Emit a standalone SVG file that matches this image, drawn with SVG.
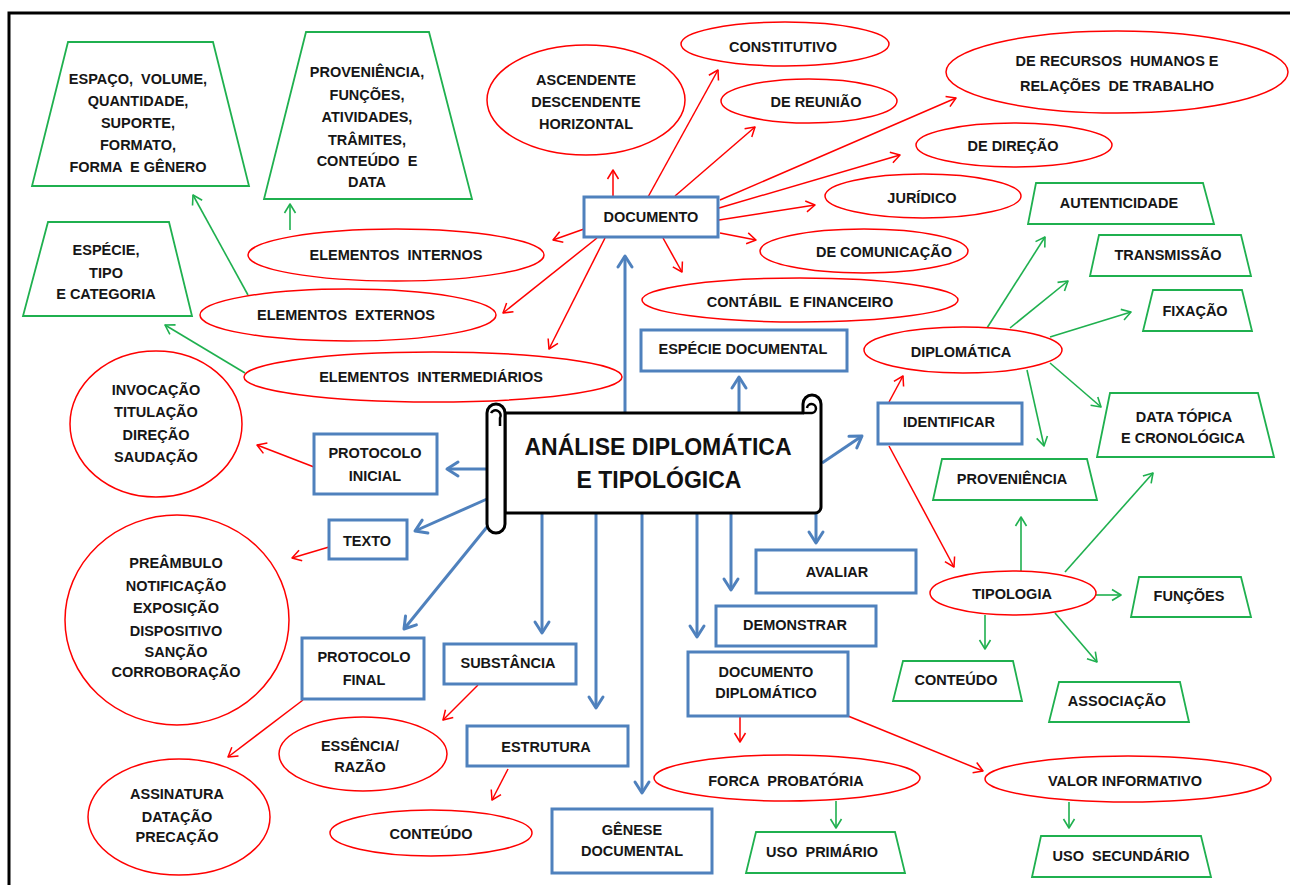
<svg xmlns="http://www.w3.org/2000/svg" width="1290" height="885" viewBox="0 0 1290 885" xml:space="preserve">
<style>
.t{font-family:"Liberation Sans",Arial,sans-serif;font-weight:bold;font-size:14.5px;fill:#161616;text-anchor:middle;white-space:pre}
.tt{font-family:"Liberation Sans",Arial,sans-serif;font-weight:bold;font-size:23px;fill:#111;text-anchor:middle}
.e{fill:#fff;stroke:#ff0000;stroke-width:1.5}
.z{fill:#fff;stroke:#1fb04f;stroke-width:1.8}
.bx{fill:#fff;stroke:#4f81bd;stroke-width:3}
.r{fill:none;stroke:#ff0000;stroke-width:1.5;marker-end:url(#ar)}
.g{fill:none;stroke:#1fb04f;stroke-width:1.6;marker-end:url(#ag)}
.b{fill:none;stroke:#4f81bd;stroke-width:3;marker-end:url(#ab)}
.sc{fill:#fff;stroke:#000;stroke-width:3;stroke-linejoin:round}
</style>
<defs>
<marker id="ar" viewBox="-12 -8 14 16" refX="0" refY="0" markerWidth="14" markerHeight="16" markerUnits="userSpaceOnUse" orient="auto"><path d="M-9,-5.5 L0,0 L-9,5.5" fill="none" stroke="#ff0000" stroke-width="1.5" stroke-linejoin="round"/></marker>
<marker id="ag" viewBox="-12 -8 14 16" refX="0" refY="0" markerWidth="14" markerHeight="16" markerUnits="userSpaceOnUse" orient="auto"><path d="M-9,-5.5 L0,0 L-9,5.5" fill="none" stroke="#1fb04f" stroke-width="1.6" stroke-linejoin="round"/></marker>
<marker id="ab" viewBox="-15 -10 18 20" refX="0" refY="0" markerWidth="18" markerHeight="20" markerUnits="userSpaceOnUse" orient="auto"><path d="M-11,-7 L0,0 L-11,7" fill="none" stroke="#4f81bd" stroke-width="3" stroke-linejoin="round" stroke-linecap="round"/></marker>
</defs>
<rect x="0" y="0" width="1290" height="885" fill="#fff"/>
<path d="M9,890 V13 H1295" fill="none" stroke="#000" stroke-width="3"/>
<g id="connectors">
<path class="r" d="M613,197 L613,170"/>
<path class="r" d="M648,197 L718,70"/>
<path class="r" d="M675,196 L755,127"/>
<path class="r" d="M720,200 L956,98"/>
<path class="r" d="M719,208 L900,155"/>
<path class="r" d="M719,220 L815,205"/>
<path class="r" d="M720,233 L756,240"/>
<path class="r" d="M663,238 L682,272"/>
<path class="r" d="M584,229 L553,240"/>
<path class="r" d="M597,238 L503,313"/>
<path class="r" d="M605,238 L549,349"/>
<path class="r" d="M889,402 L903,376"/>
<path class="r" d="M889,446 L954,567"/>
<path class="r" d="M314,467 L257,445"/>
<path class="r" d="M329,547 L292,558"/>
<path class="r" d="M303,700 L228,757"/>
<path class="r" d="M478,685 L443,720"/>
<path class="r" d="M508,769 L492,800"/>
<path class="r" d="M740,717 L740,742"/>
<path class="r" d="M848,716 L983,771"/>
<path class="g" d="M290,230 L290,204"/>
<path class="g" d="M248,295 L193,195"/>
<path class="g" d="M245,373 L165,325"/>
<path class="g" d="M987,328 L1045,237"/>
<path class="g" d="M1010,328 L1068,281"/>
<path class="g" d="M1050,337 L1131,312"/>
<path class="g" d="M1050,363 L1101,407"/>
<path class="g" d="M1027,370 L1044,446"/>
<path class="g" d="M1021,571 L1021,517"/>
<path class="g" d="M1065,572 L1153,473"/>
<path class="g" d="M1096,595 L1121,595"/>
<path class="g" d="M985,615 L985,649"/>
<path class="g" d="M1055,613 L1097,662"/>
<path class="g" d="M836,801 L836,828"/>
<path class="g" d="M1069,802 L1069,828"/>
<path class="b" d="M625,413 L625,256"/>
<path class="b" d="M739,413 L739,377"/>
<path class="b" d="M487,469 L447,469"/>
<path class="b" d="M487,499 L415,531"/>
<path class="b" d="M487,527 L404,629"/>
<path class="b" d="M542,513 L542,633"/>
<path class="b" d="M596,513 L596,708"/>
<path class="b" d="M642,513 L642,793"/>
<path class="b" d="M697,513 L697,637"/>
<path class="b" d="M731,513 L731,590"/>
<path class="b" d="M816,513 L816,543"/>
<path class="b" d="M822,463 L862,436"/>
</g>
<g id="n-espaco"><polygon class="z" points="68,42 213,42 249,186 32,186"/><text class="t" x="138" y="84">ESPAÇO,  VOLUME,</text><text class="t" x="138" y="106">QUANTIDADE,</text><text class="t" x="138" y="128">SUPORTE,</text><text class="t" x="138" y="150">FORMATO,</text><text class="t" x="138" y="172">FORMA  E GÊNERO</text></g>
<g id="n-proveniencia-int"><polygon class="z" points="306,32 429,32 472,199 264,199"/><text class="t" x="367" y="77">PROVENIÊNCIA,</text><text class="t" x="367" y="100">FUNÇÕES,</text><text class="t" x="367" y="122">ATIVIDADES,</text><text class="t" x="367" y="145">TRÂMITES,</text><text class="t" x="367" y="166">CONTEÚDO  E</text><text class="t" x="367" y="187">DATA</text></g>
<g id="n-especie"><polygon class="z" points="48,222 169,222 192,316 23,316"/><text class="t" x="106" y="255">ESPÉCIE,</text><text class="t" x="106" y="278">TIPO</text><text class="t" x="106" y="299">E CATEGORIA</text></g>
<g id="n-ascendente"><ellipse class="e" cx="586" cy="100" rx="99" ry="55"/><text class="t" x="586" y="85">ASCENDENTE</text><text class="t" x="586" y="107">DESCENDENTE</text><text class="t" x="586" y="129">HORIZONTAL</text></g>
<g id="n-constitutivo"><ellipse class="e" cx="785" cy="44" rx="104" ry="22"/><text class="t" x="783" y="52">CONSTITUTIVO</text></g>
<g id="n-reuniao"><ellipse class="e" cx="809" cy="101" rx="88" ry="22"/><text class="t" x="816" y="107">DE REUNIÃO</text></g>
<g id="n-recursos"><ellipse class="e" cx="1117" cy="72" rx="171" ry="41"/><text class="t" x="1117" y="66">DE RECURSOS  HUMANOS E</text><text class="t" x="1117" y="91">RELAÇÕES  DE TRABALHO</text></g>
<g id="n-direcao"><ellipse class="e" cx="1014" cy="145" rx="98" ry="22"/><text class="t" x="1013" y="151">DE DIREÇÃO</text></g>
<g id="n-juridico"><ellipse class="e" cx="923" cy="196" rx="98" ry="22"/><text class="t" x="922" y="203">JURÍDICO</text></g>
<g id="n-comunicacao"><ellipse class="e" cx="864" cy="251" rx="104" ry="22"/><text class="t" x="884" y="257">DE COMUNICAÇÃO</text></g>
<g id="n-contabil"><ellipse class="e" cx="800" cy="300" rx="158" ry="22"/><text class="t" x="800" y="307">CONTÁBIL  E FINANCEIRO</text></g>
<g id="n-documento"><rect class="bx" x="584" y="197" width="134" height="40"/><text class="t" x="651" y="222">DOCUMENTO</text></g>
<g id="n-internos"><ellipse class="e" cx="396" cy="255" rx="148" ry="26"/><text class="t" x="396" y="260">ELEMENTOS  INTERNOS</text></g>
<g id="n-externos"><ellipse class="e" cx="348" cy="315" rx="148" ry="26"/><text class="t" x="346" y="320">ELEMENTOS  EXTERNOS</text></g>
<g id="n-intermediarios"><ellipse class="e" cx="433" cy="377" rx="189" ry="25"/><text class="t" x="431" y="382">ELEMENTOS  INTERMEDIÁRIOS</text></g>
<g id="n-especie-doc"><rect class="bx" x="641" y="330" width="206" height="41"/><text class="t" x="743" y="354">ESPÉCIE DOCUMENTAL</text></g>
<g id="n-diplomatica"><ellipse class="e" cx="963" cy="350" rx="99" ry="23"/><text class="t" x="961" y="357">DIPLOMÁTICA</text></g>
<g id="n-autenticidade"><polygon class="z" points="1036,183 1203,183 1214,224 1028,224"/><text class="t" x="1119" y="208">AUTENTICIDADE</text></g>
<g id="n-transmissao"><polygon class="z" points="1099,235 1241,235 1251,276 1090,276"/><text class="t" x="1168" y="260">TRANSMISSÃO</text></g>
<g id="n-fixacao"><polygon class="z" points="1153,290 1242,290 1252,331 1143,331"/><text class="t" x="1195" y="316">FIXAÇÃO</text></g>
<g id="n-identificar"><rect class="bx" x="878" y="403" width="144" height="41"/><text class="t" x="949" y="427">IDENTIFICAR</text></g>
<g id="n-datatopica"><polygon class="z" points="1110,393 1258,393 1274,457 1097,457"/><text class="t" x="1184" y="422">DATA TÓPICA</text><text class="t" x="1183" y="443">E CRONOLÓGICA</text></g>
<g id="n-proveniencia"><polygon class="z" points="942,459 1087,459 1097,500 933,500"/><text class="t" x="1012" y="484">PROVENIÊNCIA</text></g>
<g id="n-invocacao"><ellipse class="e" cx="156" cy="424" rx="86" ry="73"/><text class="t" x="156" y="395">INVOCAÇÃO</text><text class="t" x="156" y="417">TITULAÇÃO</text><text class="t" x="156" y="440">DIREÇÃO</text><text class="t" x="156" y="462">SAUDAÇÃO</text></g>
<g id="n-protocolo-inicial"><rect class="bx" x="314" y="434" width="123" height="60"/><text class="t" x="375" y="458">PROTOCOLO</text><text class="t" x="375" y="481">INICIAL</text></g>
<g id="n-texto"><rect class="bx" x="329" y="520" width="78" height="39"/><text class="t" x="367" y="546">TEXTO</text></g>
<g id="n-titulo">
<path class="sc" d="M505,413 L803,413 L803,404 A9,9 0 0 1 821,404 L821,507 A6,6 0 0 1 815,513 L505,513 Z"/>
<path d="M803,413 L812,413 A4.5,4.5 0 1 0 807,408" fill="none" stroke="#000" stroke-width="2.5"/>
<rect class="sc" x="487" y="404" width="18" height="129" rx="9"/>
<path d="M491,413 A5,5 0 1 1 500,418 L500,426" fill="none" stroke="#000" stroke-width="2.5"/>
<text class="tt" x="658" y="455">ANÁLISE DIPLOMÁTICA</text>
<text class="tt" x="659" y="488">E TIPOLÓGICA</text>
</g>
<g id="n-avaliar"><rect class="bx" x="756" y="550" width="160" height="43"/><text class="t" x="837" y="577">AVALIAR</text></g>
<g id="n-tipologia"><ellipse class="e" cx="1013" cy="593" rx="83" ry="22"/><text class="t" x="1012" y="599">TIPOLOGIA</text></g>
<g id="n-funcoes"><polygon class="z" points="1139,577 1241,577 1251,617 1131,617"/><text class="t" x="1189" y="601">FUNÇÕES</text></g>
<g id="n-preambulo"><ellipse class="e" cx="177" cy="620" rx="112" ry="105"/><text class="t" x="176" y="568">PREÂMBULO</text><text class="t" x="176" y="591">NOTIFICAÇÃO</text><text class="t" x="176" y="613">EXPOSIÇÃO</text><text class="t" x="176" y="636">DISPOSITIVO</text><text class="t" x="176" y="657">SANÇÃO</text><text class="t" x="176" y="677">CORROBORAÇÃO</text></g>
<g id="n-protocolo-final"><rect class="bx" x="302" y="638" width="122" height="61"/><text class="t" x="364" y="662">PROTOCOLO</text><text class="t" x="364" y="685">FINAL</text></g>
<g id="n-substancia"><rect class="bx" x="444" y="644" width="132" height="40"/><text class="t" x="508" y="668">SUBSTÂNCIA</text></g>
<g id="n-demonstrar"><rect class="bx" x="716" y="606" width="160" height="40"/><text class="t" x="795" y="630">DEMONSTRAR</text></g>
<g id="n-doc-diplomatico"><rect class="bx" x="688" y="652" width="160" height="64"/><text class="t" x="766" y="677">DOCUMENTO</text><text class="t" x="766" y="698">DIPLOMÁTICO</text></g>
<g id="n-conteudo-tip"><polygon class="z" points="903,661 1013,661 1022,701 893,701"/><text class="t" x="956" y="685">CONTEÚDO</text></g>
<g id="n-associacao"><polygon class="z" points="1059,682 1180,682 1189,722 1049,722"/><text class="t" x="1117" y="706">ASSOCIAÇÃO</text></g>
<g id="n-essencia"><ellipse class="e" cx="363" cy="754" rx="84" ry="37"/><text class="t" x="360" y="751">ESSÊNCIA/</text><text class="t" x="360" y="772">RAZÃO</text></g>
<g id="n-estrutura"><rect class="bx" x="467" y="726" width="161" height="40"/><text class="t" x="546" y="752">ESTRUTURA</text></g>
<g id="n-forca"><ellipse class="e" cx="787" cy="778" rx="133" ry="23"/><text class="t" x="786" y="786">FORCA  PROBATÓRIA</text></g>
<g id="n-valor"><ellipse class="e" cx="1128" cy="779" rx="143" ry="23"/><text class="t" x="1125" y="786">VALOR INFORMATIVO</text></g>
<g id="n-assinatura"><ellipse class="e" cx="179" cy="817" rx="91" ry="58"/><text class="t" x="177" y="799">ASSINATURA</text><text class="t" x="177" y="822">DATAÇÃO</text><text class="t" x="177" y="842">PRECAÇÃO</text></g>
<g id="n-conteudo-est"><ellipse class="e" cx="431" cy="833" rx="101" ry="23"/><text class="t" x="431" y="839">CONTEÚDO</text></g>
<g id="n-genese"><rect class="bx" x="552" y="809" width="160" height="64"/><text class="t" x="632" y="835">GÊNESE</text><text class="t" x="632" y="856">DOCUMENTAL</text></g>
<g id="n-uso-primario"><polygon class="z" points="756,832 895,832 905,873 746,873"/><text class="t" x="822" y="857">USO  PRIMÁRIO</text></g>
<g id="n-uso-secundario"><polygon class="z" points="1041,836 1201,836 1211,877 1032,877"/><text class="t" x="1121" y="861">USO  SECUNDÁRIO</text></g>
</svg>
